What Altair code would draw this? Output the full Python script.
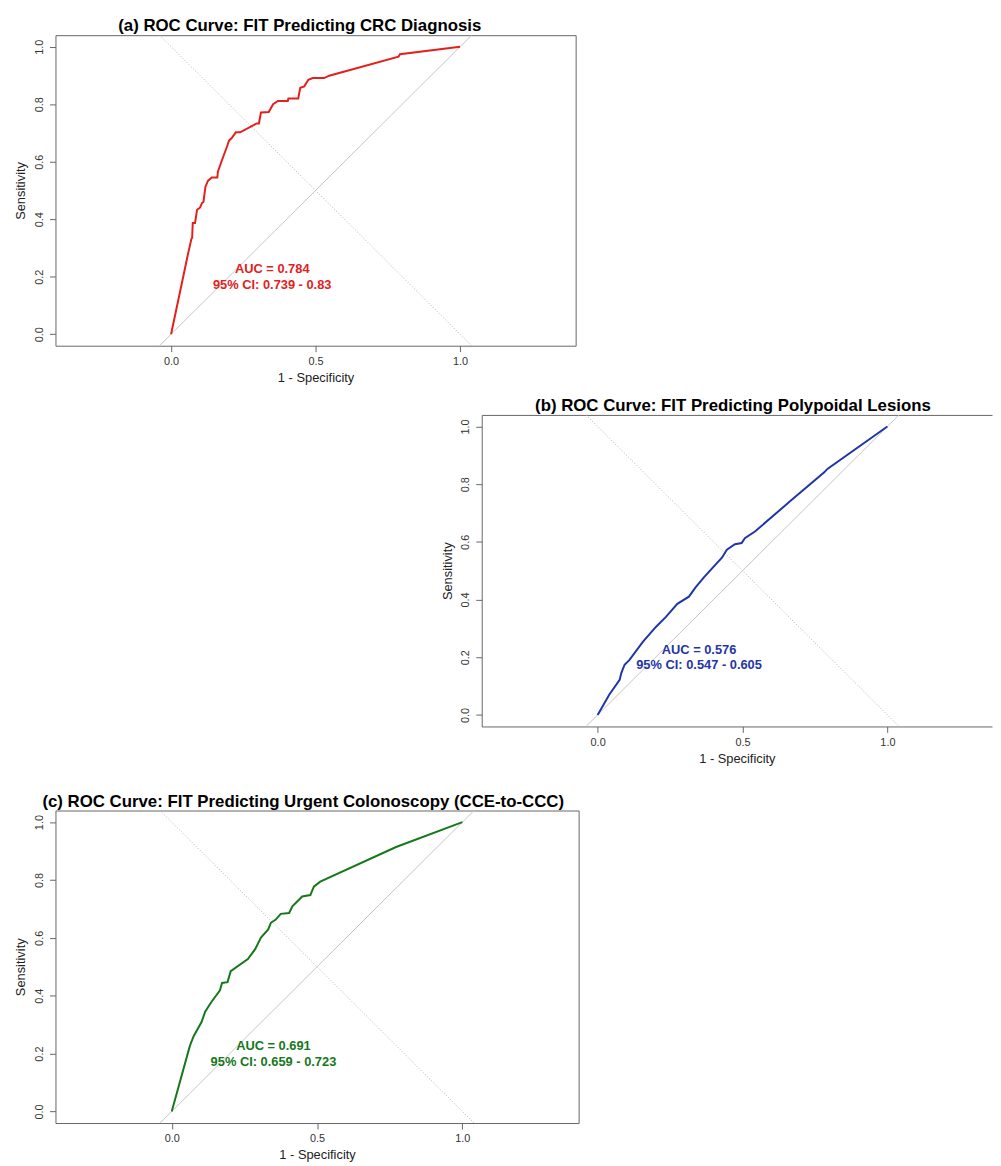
import altair as alt
import pandas as pd

# ---------------- data ----------------
X_TICKS = [0.0, 0.5, 1.0]
Y_TICKS = [0.0, 0.2, 0.4, 0.6, 0.8, 1.0]
DIAG = [-0.04, 1.04]

# (a) FIT predicting CRC diagnosis
a_fpr = [0.0, 0.056, 0.07, 0.073, 0.075, 0.083, 0.09, 0.1, 0.107, 0.112, 0.119, 0.128, 0.141,
         0.16, 0.162, 0.176, 0.193, 0.201, 0.21, 0.224, 0.239, 0.296, 0.304, 0.311, 0.338, 0.353,
         0.37, 0.404, 0.406, 0.44, 0.447, 0.461, 0.475, 0.49, 0.53, 0.547, 0.787, 0.792, 1.0]
a_tpr = [0.0, 0.267, 0.33, 0.336, 0.387, 0.387, 0.433, 0.44, 0.456, 0.46, 0.513, 0.534, 0.545,
         0.545, 0.565, 0.605, 0.651, 0.674, 0.682, 0.702, 0.702, 0.733, 0.733, 0.771, 0.773, 0.8,
         0.811, 0.811, 0.82, 0.82, 0.857, 0.862, 0.885, 0.891, 0.891, 0.899, 0.965, 0.974, 1.0]

# (b) FIT predicting polypoidal lesions
b_fpr = [0.0, 0.04, 0.076, 0.082, 0.093, 0.11, 0.156, 0.201, 0.235, 0.275, 0.315, 0.338, 0.366,
         0.395, 0.429, 0.446, 0.474, 0.497, 0.508, 0.543, 0.668, 0.782, 0.793, 1.0]
b_tpr = [0.0, 0.07, 0.122, 0.146, 0.174, 0.191, 0.253, 0.305, 0.339, 0.385, 0.41, 0.442, 0.476,
         0.508, 0.545, 0.573, 0.592, 0.596, 0.613, 0.636, 0.744, 0.841, 0.853, 1.0]

# (c) FIT predicting urgent colonoscopy
c_fpr = [0.0, 0.06, 0.064, 0.075, 0.103, 0.115, 0.137, 0.166, 0.173, 0.192, 0.203, 0.262, 0.287,
         0.307, 0.332, 0.341, 0.358, 0.375, 0.404, 0.415, 0.449, 0.477, 0.489, 0.511, 0.772, 1.0]
c_tpr = [0.0, 0.218, 0.231, 0.259, 0.31, 0.345, 0.379, 0.419, 0.444, 0.447, 0.485, 0.527, 0.561,
         0.601, 0.629, 0.652, 0.663, 0.683, 0.686, 0.709, 0.743, 0.748, 0.777, 0.794, 0.914, 1.0]

titles = [
    "(a) ROC Curve: FIT Predicting CRC Diagnosis",
    "(b) ROC Curve: FIT Predicting Polypoidal Lesions",
    "(c) ROC Curve: FIT Predicting Urgent Colonoscopy (CCE-to-CCC)",
]
auc_labels = ["AUC = 0.784", "AUC = 0.576", "AUC = 0.691"]
ci_labels = ["95% CI: 0.739 - 0.83", "95% CI: 0.547 - 0.605", "95% CI: 0.659 - 0.723"]
colors = ["#e3211c", "#1f35a8", "#16781b"]

ANNOT_X = 0.35
ANNOT_Y = [0.225, 0.172]

FONT = "Liberation Sans"
FRAME = "#666666"


def panel(fpr, tpr, color, title, auc_label, ci_label, width, height, x_max, dx, boxed):
    xs = alt.Scale(domain=[-0.4, x_max], nice=False, zero=False)
    ys = alt.Scale(domain=[-0.04, 1.04], nice=False, zero=False)
    common = dict(grid=False, domainColor=FRAME, tickColor=FRAME, tickSize=6,
                  labelFont=FONT, labelFontSize=11, labelColor="#333333",
                  titleFont=FONT, titleFontSize=13, titleFontWeight="normal",
                  titleColor="#222222")
    x_bottom = alt.Axis(orient="bottom", values=X_TICKS, format=".1f", title="1 - Specificity",
                        domain=not boxed, labelPadding=4, titlePadding=5, **common)
    y_left = alt.Axis(values=Y_TICKS, format=".1f", title="Sensitivity", domain=not boxed,
                      labelAngle=270, labelAlign="center", labelBaseline="bottom",
                      labelPadding=5, titlePadding=6, **common)
    if boxed:
        x_first = x_bottom
        x_other = x_bottom
    else:
        x_first = alt.Axis(orient="top", labels=False, ticks=False, title="", grid=False,
                           domain=True, domainColor=FRAME)
        x_other = None

    diag_df = pd.DataFrame({"x": DIAG, "y": DIAG})
    anti_df = pd.DataFrame({"x": DIAG, "y": DIAG[::-1]})
    curve_df = pd.DataFrame({"fpr": fpr, "tpr": tpr, "i": list(range(len(fpr)))})
    text_df = pd.DataFrame({"x": [ANNOT_X, ANNOT_X], "y": ANNOT_Y, "t": [auc_label, ci_label]})

    diag = alt.Chart(diag_df).mark_line(color="#c4c4c4", strokeWidth=1).encode(
        x=alt.X("x:Q", scale=xs, axis=x_first),
        y=alt.Y("y:Q", scale=ys, axis=y_left),
    )
    anti = alt.Chart(anti_df).mark_line(color="#b0b0b0", strokeWidth=1, strokeDash=[1, 2]).encode(
        x=alt.X("x:Q", scale=xs, axis=x_bottom),
        y=alt.Y("y:Q", scale=ys, axis=y_left),
    )
    curve = alt.Chart(curve_df).mark_line(color=color, strokeWidth=2).encode(
        x=alt.X("fpr:Q", scale=xs, axis=x_other),
        y=alt.Y("tpr:Q", scale=ys, axis=y_left),
        order="i:Q",
    )
    text = alt.Chart(text_df).mark_text(font=FONT, fontSize=13, fontWeight="bold", color=color,
                                        align="center", baseline="middle").encode(
        x=alt.X("x:Q", scale=xs, axis=x_other),
        y=alt.Y("y:Q", scale=ys, axis=y_left),
        text="t:N",
    )
    layered = alt.layer(diag, anti, curve, text).properties(
        width=width, height=height,
        title=alt.TitleParams(title, font=FONT, fontSize=17, fontWeight="bold",
                              color="black", anchor="middle", dx=dx, offset=-2),
        view=alt.ViewBackground(stroke=FRAME if boxed else "transparent", strokeWidth=1, fill="white"),
    )
    if not boxed:
        layered = layered.resolve_axis(x="independent")
    return layered


def blank(w, h):
    return alt.Chart(pd.DataFrame({"v": [0.5]})).mark_point(opacity=0, size=1).encode(
        x=alt.X("v:Q", axis=None, scale=alt.Scale(domain=[0, 1])),
        y=alt.Y("v:Q", axis=None, scale=alt.Scale(domain=[0, 1])),
    ).properties(width=w, height=h, view=alt.ViewBackground(stroke="transparent"))


pa = panel(a_fpr, a_tpr, colors[0], titles[0], auc_labels[0], ci_labels[0], 526, 314, 1.4, -16, True)
pb = panel(b_fpr, b_tpr, colors[1], titles[1], auc_labels[1], ci_labels[1], 516, 315, 1.361, -4, False)
pc = panel(c_fpr, c_tpr, colors[2], titles[2], auc_labels[2], ci_labels[2], 529, 316, 1.4, -14, True)

row_b = alt.concat(blank(388, 369), pb, columns=2, spacing=0, align="none")

chart = alt.concat(pa, row_b, pc, columns=1, spacing=11, align="none").properties(
    padding={"left": 6, "top": 2, "right": 0, "bottom": 0},
    background="white",
)

chart.save("out.html", embed_options={"renderer": "svg", "actions": False})
